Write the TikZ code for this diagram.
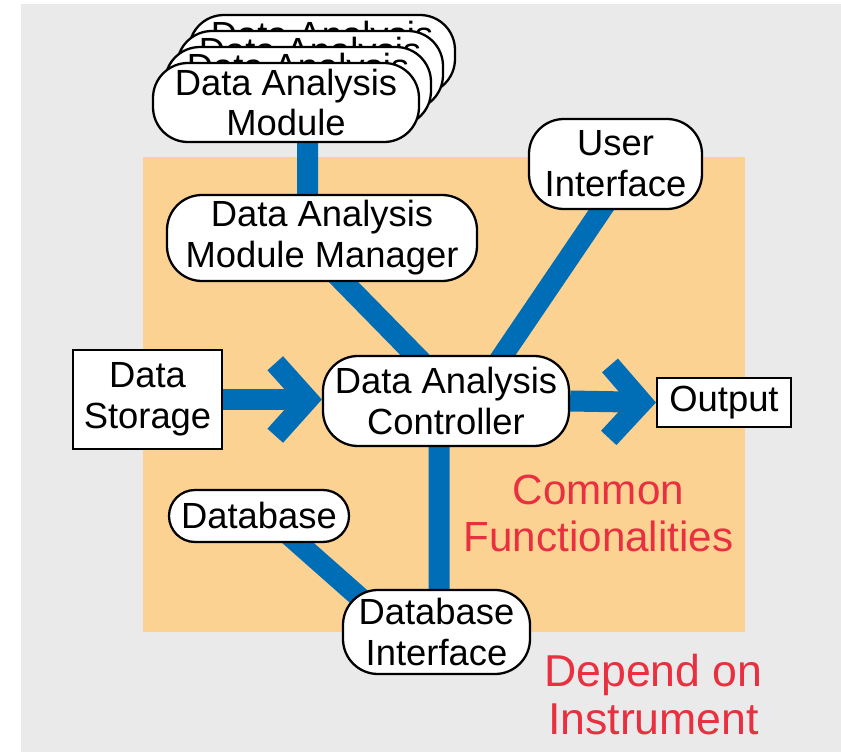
\documentclass[tikz,border=0pt]{standalone}
\usepackage{fontspec}
\setmainfont{Liberation Sans}
\usepackage{tikz}
\usetikzlibrary{arrows.meta, positioning, calc, backgrounds}
\usepackage{xcolor}

\definecolor{dablue}{RGB}{0,110,183}
\definecolor{fnorange}{RGB}{252,210,146}
\definecolor{bggray}{RGB}{234,234,234}
\definecolor{depred}{RGB}{232,48,64}
\newcommand{\boxfont}{\fontsize{20.7}{23.3}\selectfont}
\newcommand{\notefont}{\fontsize{24}{27.2}\selectfont}
\newcommand{\bignotefont}{\fontsize{25.4}{27.2}\selectfont}

\begin{document}
\begin{tikzpicture}[
    rnd/.style={rectangle, rounded corners=0.7cm, draw, line width=1.3pt, fill=white, align=center, inner sep=0pt, font=\boxfont},
    plain/.style={rectangle, draw, line width=1.2pt, fill=white, align=center, inner sep=0pt, font=\boxfont},
    note/.style={align=center, inner sep=0pt, text=depred, font=\notefont},
    conn/.style={draw=dablue, line width=0.42cm},
    arrow/.style={conn, -{Straight Barb[length=0.65cm, width=1.45cm, sharp]}}
]
\useasboundingbox (0,0) rectangle (16.82,15.06);

% 背景
\begin{scope}[on background layer]
\fill[bggray] (0.42,0.02) rectangle (16.82,14.98);
\fill[fnorange] (2.86,2.42) rectangle (14.90,11.92);
\end{scope}

% 模块
\node[rnd, minimum width=5.32cm, minimum height=1.58cm] (mod3) at (6.44,13.97) {Data Analysis\\Module};
\node[rnd, minimum width=5.32cm, minimum height=1.58cm] (mod2) at (6.20,13.65) {Data Analysis\\Module};
\node[rnd, minimum width=5.32cm, minimum height=1.58cm] (mod1) at (5.96,13.33) {Data Analysis\\Module};
\node[rnd, minimum width=5.32cm, minimum height=1.58cm] (mod) at (5.72,13.01) {Data Analysis\\Module};

% 公共部分
\node[rnd, minimum width=6.2cm, minimum height=1.72cm] (damm) at (6.44,10.30) {Data Analysis\\Module Manager};
\node[rnd, minimum width=3.46cm, minimum height=1.8cm] (ui) at (12.31,11.78) {User\\Interface};
\node[rnd, minimum width=4.92cm, minimum height=1.8cm] (ctrl) at (8.92,7.04) {Data Analysis\\Controller};
\node[plain, minimum width=2.98cm, minimum height=1.98cm] (store) at (2.95,7.07) {Data\\Storage};
\node[plain, minimum width=2.68cm, minimum height=0.98cm] (out) at (14.48,7.01) {Output};
\node[rnd, rounded corners=0.52cm, minimum width=3.6cm, minimum height=1.04cm] (db) at (5.18,4.74) {Database};
\node[rnd, minimum width=3.74cm, minimum height=1.68cm] (dbi) at (8.73,2.42) {Database\\Interface};

% 说明文字
\node[note] (common) at (11.97,4.79) {Common\\Functionalities};
\node[note, font=\bignotefont] (depend) at (13.07,1.17) {Depend on\\Instrument};

% 连线
\begin{scope}[on background layer]
\draw[conn] ([xshift=0.43cm]mod.center) -- ([xshift=-0.29cm]damm.center);
\draw[conn] ([yshift=-0.44cm]damm.center) -- ([shift={(-0.13,0.42)}]ctrl.center);
\draw[conn] ([yshift=-0.5cm]ui.center) -- ([shift={(0.8,0.42)}]ctrl.center);
\draw[conn] ([xshift=-0.14cm]ctrl.center) -- ([xshift=0.05cm]dbi.center);
\draw[conn] ([xshift=0.17cm]db.center) -- ([shift={(-1.14,0.34)}]dbi.center);
\draw[arrow] (store.east) -- (store.east -| ctrl.west);
\draw[arrow] (ctrl.east) -- (out.west);
\end{scope}
\end{tikzpicture}
\end{document}
